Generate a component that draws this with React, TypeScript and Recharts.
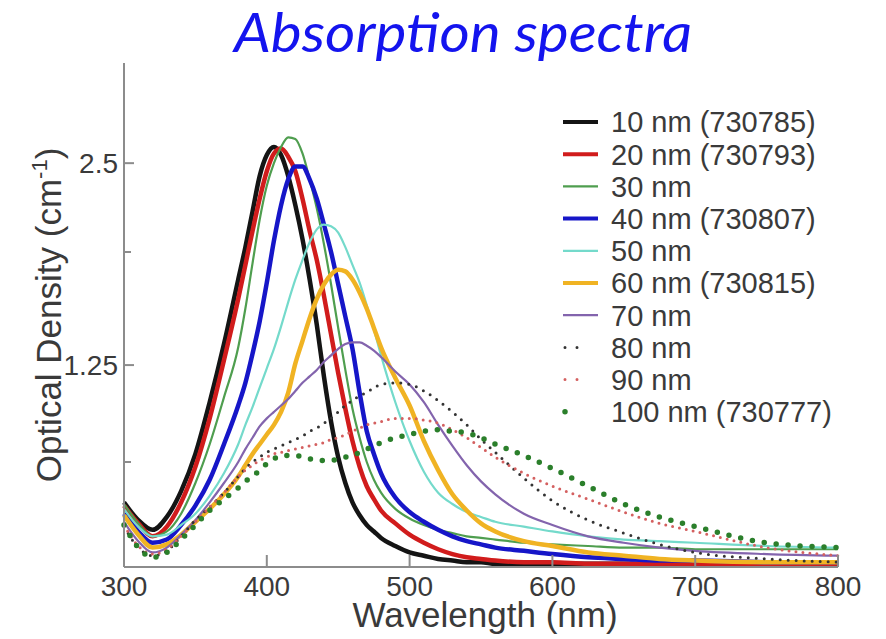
import { LineChart, Line, XAxis, YAxis } from 'recharts'

const wavelengths = [300, 310, 320, 330, 340, 350, 360, 370, 380, 385, 390, 395, 400, 405, 410, 415, 420, 425, 430, 435, 440, 445, 450, 455, 460, 465, 470, 475, 480, 490, 500, 510, 520, 530, 540, 550, 560, 580, 600, 625, 650, 675, 700, 750, 800]

const od10 = [0.40, 0.29, 0.23, 0.31, 0.47, 0.70, 1.02, 1.38, 1.78, 1.98, 2.20, 2.42, 2.55, 2.60, 2.55, 2.42, 2.24, 2.03, 1.78, 1.50, 1.18, 0.90, 0.68, 0.52, 0.40, 0.32, 0.26, 0.22, 0.18, 0.13, 0.09, 0.07, 0.05, 0.04, 0.03, 0.03, 0.02, 0.02, 0.02, 0.02, 0.02, 0.02, 0.02, 0.02, 0.02]
const od20 = [0.38, 0.27, 0.19, 0.25, 0.40, 0.62, 0.92, 1.28, 1.66, 1.87, 2.08, 2.28, 2.45, 2.56, 2.59, 2.54, 2.45, 2.28, 2.08, 1.90, 1.68, 1.44, 1.20, 0.98, 0.78, 0.62, 0.50, 0.42, 0.35, 0.27, 0.20, 0.15, 0.11, 0.08, 0.06, 0.05, 0.04, 0.03, 0.03, 0.02, 0.02, 0.02, 0.02, 0.02, 0.02]
const od30 = [0.39, 0.27, 0.19, 0.22, 0.33, 0.52, 0.76, 1.05, 1.36, 1.60, 1.88, 2.15, 2.36, 2.50, 2.60, 2.66, 2.65, 2.56, 2.40, 2.22, 2.00, 1.75, 1.48, 1.22, 0.98, 0.80, 0.65, 0.54, 0.46, 0.36, 0.30, 0.26, 0.23, 0.21, 0.19, 0.18, 0.17, 0.15, 0.14, 0.13, 0.12, 0.12, 0.11, 0.11, 0.11]
const od40 = [0.33, 0.22, 0.15, 0.17, 0.26, 0.38, 0.54, 0.76, 1.00, 1.14, 1.32, 1.52, 1.76, 2.02, 2.24, 2.40, 2.48, 2.48, 2.40, 2.28, 2.12, 1.95, 1.75, 1.55, 1.35, 1.08, 0.84, 0.70, 0.58, 0.43, 0.34, 0.28, 0.23, 0.19, 0.16, 0.14, 0.12, 0.10, 0.08, 0.06, 0.05, 0.04, 0.04, 0.03, 0.03]
const od50 = [0.36, 0.25, 0.19, 0.20, 0.26, 0.33, 0.44, 0.58, 0.76, 0.88, 0.99, 1.11, 1.23, 1.35, 1.49, 1.64, 1.78, 1.90, 2.01, 2.09, 2.12, 2.11, 2.07, 1.98, 1.87, 1.76, 1.62, 1.47, 1.31, 1.02, 0.78, 0.59, 0.46, 0.39, 0.34, 0.31, 0.28, 0.25, 0.22, 0.19, 0.17, 0.16, 0.15, 0.13, 0.12]
const od60 = [0.32, 0.20, 0.12, 0.14, 0.20, 0.28, 0.36, 0.45, 0.56, 0.63, 0.70, 0.76, 0.82, 0.88, 0.96, 1.08, 1.26, 1.40, 1.54, 1.66, 1.75, 1.81, 1.84, 1.83, 1.78, 1.70, 1.60, 1.48, 1.36, 1.17, 1.00, 0.78, 0.60, 0.45, 0.35, 0.27, 0.22, 0.16, 0.13, 0.09, 0.07, 0.05, 0.04, 0.03, 0.03]
const od70 = [0.28, 0.16, 0.09, 0.12, 0.20, 0.29, 0.40, 0.52, 0.65, 0.73, 0.80, 0.87, 0.92, 0.96, 1.00, 1.04, 1.09, 1.14, 1.18, 1.22, 1.27, 1.31, 1.35, 1.38, 1.39, 1.39, 1.37, 1.34, 1.30, 1.21, 1.13, 1.02, 0.88, 0.75, 0.63, 0.53, 0.45, 0.33, 0.26, 0.19, 0.15, 0.12, 0.10, 0.08, 0.07]
const od80 = [0.25, 0.12, 0.07, 0.10, 0.19, 0.29, 0.37, 0.46, 0.56, 0.61, 0.65, 0.68, 0.71, 0.73, 0.75, 0.77, 0.79, 0.81, 0.84, 0.86, 0.89, 0.92, 0.96, 1.00, 1.03, 1.06, 1.08, 1.11, 1.13, 1.14, 1.13, 1.09, 1.03, 0.96, 0.88, 0.79, 0.71, 0.55, 0.41, 0.29, 0.21, 0.14, 0.09, 0.05, 0.03]
const od90 = [0.26, 0.13, 0.08, 0.11, 0.19, 0.28, 0.37, 0.46, 0.56, 0.60, 0.63, 0.66, 0.68, 0.70, 0.71, 0.72, 0.73, 0.74, 0.75, 0.76, 0.77, 0.79, 0.80, 0.82, 0.84, 0.86, 0.88, 0.89, 0.90, 0.92, 0.92, 0.91, 0.89, 0.85, 0.80, 0.74, 0.68, 0.58, 0.50, 0.42, 0.34, 0.27, 0.22, 0.12, 0.07]
const od100 = [0.26, 0.12, 0.06, 0.09, 0.17, 0.26, 0.35, 0.42, 0.49, 0.53, 0.56, 0.60, 0.64, 0.67, 0.69, 0.69, 0.69, 0.68, 0.67, 0.66, 0.66, 0.66, 0.67, 0.68, 0.69, 0.71, 0.73, 0.75, 0.77, 0.80, 0.82, 0.84, 0.85, 0.84, 0.83, 0.80, 0.76, 0.69, 0.61, 0.50, 0.39, 0.31, 0.25, 0.15, 0.12]

const xTicks = [300, 400, 500, 600, 700, 800]
const yTicks = [0.65, 1.25, 1.95, 2.5]
const yLabelled = [1.25, 2.5]

const AXIS = '#8c8c8c'
const INK = '#3a3a3a'
const FONT = '"Liberation Sans", Arial, Helvetica, sans-serif'

// styling per series, legend order
const series = [
  { key: 'od10', name: '10 nm (730785)', values: od10, color: '#141414', width: 4.5 },
  { key: 'od20', name: '20 nm (730793)', values: od20, color: '#d11c1c', width: 4.5 },
  { key: 'od30', name: '30 nm', values: od30, color: '#4f9e4f', width: 2.2 },
  { key: 'od40', name: '40 nm (730807)', values: od40, color: '#1616c8', width: 4.5 },
  { key: 'od50', name: '50 nm', values: od50, color: '#74dacb', width: 2.2 },
  { key: 'od60', name: '60 nm (730815)', values: od60, color: '#f0b323', width: 4.5 },
  { key: 'od70', name: '70 nm', values: od70, color: '#8364ad', width: 2.2 },
  { key: 'od80', name: '80 nm', values: od80, color: '#333333', width: 3, dash: '0 8' },
  { key: 'od90', name: '90 nm', values: od90, color: '#d46060', width: 3, dash: '0 7' },
  { key: 'od100', name: '100 nm (730777)', values: od100, color: '#2b7f2b', width: 5.5, dash: '0 12' },
]

const data = wavelengths.map((w, i) => {
  const row: Record<string, number> = { w }
  series.forEach(s => { row[s.key] = s.values[i] })
  return row
})

function XTick({ x, y, payload }: any) {
  return (
    <g>
      <line x1={x} y1={y} x2={x} y2={y - 12} stroke={AXIS} strokeWidth={2} />
      <text x={x} y={y + 29} textAnchor="middle" fontSize={28} fontFamily={FONT} fill={INK}>{payload.value}</text>
    </g>
  )
}

function YTick({ x, y, payload }: any) {
  const major = yLabelled.includes(payload.value)
  return (
    <g>
      <line x1={x} y1={y} x2={x + (major ? 10 : 7)} y2={y} stroke={AXIS} strokeWidth={2} />
      {major && (
        <text x={x - 6} y={y} dy="0.36em" textAnchor="end" fontSize={28} fontFamily={FONT} fill={INK}>{payload.value}</text>
      )}
    </g>
  )
}

function Overlay() {
  return (
    <svg width={886} height={639} style={{ position: 'absolute', left: 0, top: 0, pointerEvents: 'none' }}>
      <text x={463} y={52} textAnchor="middle" fontSize={54} fontStyle="italic" fontFamily="Lato, 'Open Sans', sans-serif"
        fill="#1414ee" textLength={458} lengthAdjust="spacingAndGlyphs">Absorption spectra</text>
      <text transform="translate(61,315) rotate(-90)" textAnchor="middle" fontSize={35} fontFamily={FONT} fill={INK}>
        Optical Density (cm<tspan dy={-14} fontSize={22}>-1</tspan><tspan dy={14}>)</tspan>
      </text>
      {series.map((s, i) => {
        const cy = 122 + i * 32.2
        const dotted = !!s.dash
        const x2 = s.key === 'od100' ? 590 : dotted ? 589 : 598
        return (
          <g key={s.key}>
            <line x1={dotted ? 565 : 563} y1={cy} x2={x2} y2={cy} stroke={s.color}
              strokeWidth={dotted ? s.width : Math.min(s.width, 4)}
              strokeDasharray={s.key === 'od100' ? '0 25' : dotted ? '0 12' : undefined}
              strokeLinecap={dotted ? 'round' : 'butt'} />
            <text x={611} y={cy} dy="0.36em" fontSize={29} fontFamily={FONT} fill={INK}>{s.name}</text>
          </g>
        )
      })}
    </svg>
  )
}

export default function App() {
  return (
    <div style={{ position: 'absolute', left: 0, top: 0, width: 886, height: 639, background: '#fff' }}>
      <LineChart width={886} height={639} data={data} margin={{ top: 63, right: 48, bottom: 0, left: 0 }}>
        <XAxis dataKey="w" type="number" domain={[300, 800]} ticks={xTicks} interval={0} height={72}
          tickSize={0} tickMargin={0} tickLine={false} tick={<XTick />}
          axisLine={{ stroke: AXIS, strokeWidth: 2 }}
          label={{ value: 'Wavelength (nm)', position: 'insideBottom', offset: 12, dx: 4, fontSize: 35, fill: INK, fontFamily: FONT }} />
        <YAxis type="number" domain={[0, 3.12]} ticks={yTicks} interval={0} width={124}
          tickSize={0} tickMargin={0} tickLine={false} tick={<YTick />}
          axisLine={{ stroke: AXIS, strokeWidth: 2 }} />
        {series.map(s => (
          <Line key={s.key} dataKey={s.key} name={s.name} type="monotone" stroke={s.color}
            strokeWidth={s.width} strokeDasharray={s.dash} strokeLinecap={s.dash ? 'round' : 'butt'}
            dot={false} activeDot={false} isAnimationActive={false} />
        ))}
      </LineChart>
      <Overlay />
    </div>
  )
}
